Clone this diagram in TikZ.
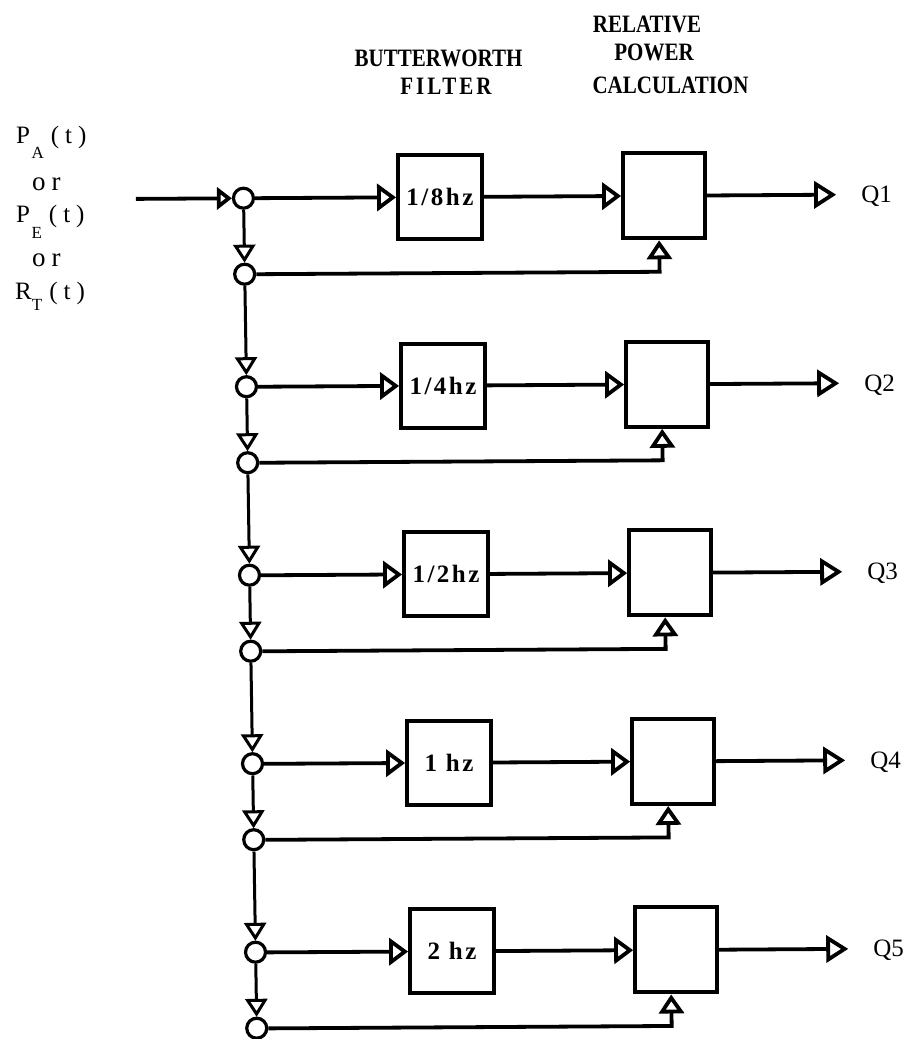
\documentclass[tikz,border=0pt]{standalone}
\usepackage{fontspec}
\setmainfont{Liberation Serif}
\newfontfamily\headfont[FakeStretch=0.84]{Liberation Serif}
\newfontfamily\boxfont[LetterSpace=10]{Liberation Serif}
\usetikzlibrary{arrows.meta}
\tikzset{
  wire/.style={line width=3.8pt},
  spine/.style={line width=3pt},
  junc/.style={circle, draw, line width=3.2pt, minimum size=20pt, inner sep=0pt, fill=white},
  fbox/.style={draw, line width=4pt, minimum width=84pt, minimum height=84pt, inner sep=0pt,
    font=\boxfont\bfseries\fontsize{25}{25}\selectfont},
  pbox/.style={draw, line width=4pt, minimum width=82pt, minimum height=85pt, inner sep=0pt},
  tipS/.style={-{Triangle[open,length=15pt,width=22pt]}},
  tipM/.style={-{Triangle[open,length=19pt,width=27pt]}},
  tipD/.style={-{Triangle[open,length=18pt,width=22pt]}},
  tipU/.style={-{Triangle[open,length=19pt,width=25pt]}},
  tipO/.style={-{Triangle[open,length=22pt,width=27pt]}},
  headtxt/.style={inner sep=0pt, font=\headfont\bfseries\fontsize{25}{25}\selectfont},
  lbl/.style={anchor=base west, inner sep=0pt, font=\fontsize{25}{25}\selectfont},
  qtxt/.style={anchor=base west, inner sep=0pt, font=\fontsize{25}{25}\selectfont},
}
\begin{document}
\begin{tikzpicture}[x=1pt,y=-1pt]
\useasboundingbox[fill=white] (0,0) rectangle (908,1039);
% headings
\node[headtxt] (hb) at (438.5,58.5) {BUTTERWORTH};
\node[headtxt] (hf) at (446,86.5) {\addfontfeature{LetterSpace=12}FILTER};
\node[headtxt] (hr) at (647,24) {RELATIVE};
\node[headtxt] (hp) at (654,52.5) {POWER};
\node[headtxt] (hc) at (670.5,85) {CALCULATION};
% input labels
\node[lbl] (pa) at (16,143) {P\hspace{1.5pt}\raisebox{-15pt}{\fontsize{17}{17}\selectfont A}\hspace{7pt}(\hspace{6pt}t\hspace{6pt})};
\node[lbl] (or1) at (32,190) {\fontsize{27}{27}\selectfont o\hspace{6pt}r};
\node[lbl] (pe) at (16,222) {P\hspace{1.5pt}\raisebox{-16pt}{\fontsize{17}{17}\selectfont E}\hspace{7pt}(\hspace{6pt}t\hspace{6pt})};
\node[lbl] (or2) at (32,266) {\fontsize{27}{27}\selectfont o\hspace{6pt}r};
\node[lbl] (rt) at (15,299) {R\raisebox{-11pt}{\fontsize{17}{17}\selectfont T}\hspace{7pt}(\hspace{6pt}t\hspace{6pt})};
\begin{scope}[cm={1,0.006,-0.016,1,(-9.2pt,-2.7pt)}]
  \coordinate (in) at (142,197);
  \foreach \k in {1,...,5}{
    \pgfmathsetmacro{\Y}{197+188.5*(\k-1)}
    \pgfmathsetmacro{\F}{\Y+76}
    \node[junc] (M\k) at (249.5,\Y) {};
    \node[junc] (B\k) at (249.5,\F) {};
    \node[fbox] (F\k) at (446,\Y) {\ifcase\k\or 1/8hz\or 1/4hz\or 1/2hz\or 1 hz\or 2 hz\fi};
    \node[pbox] (P\k) at (670,\Y) {};
    \coordinate (O\k) at (842,\Y);
    \node[qtxt] (Q\k) at (867,\Y+8) {Q\k};
  }
  \draw[wire,tipS] (in) -- (M1);
  \foreach \k in {1,...,5}{
    \draw[wire,tipM] (M\k) -- (F\k);
    \draw[wire,tipM] (F\k) -- (P\k);
    \draw[wire,tipO] (P\k) -- (O\k);
    \draw[wire,tipU] (B\k) -| ([xshift=-5pt]P\k.south);
    \draw[spine,tipD] (M\k) -- (B\k);
  }
  \foreach \k [evaluate=\k as \n using int(\k+1)] in {1,...,4}{
    \draw[spine,tipD] (B\k) -- (M\n);
  }
\end{scope}
\end{tikzpicture}
\end{document}
